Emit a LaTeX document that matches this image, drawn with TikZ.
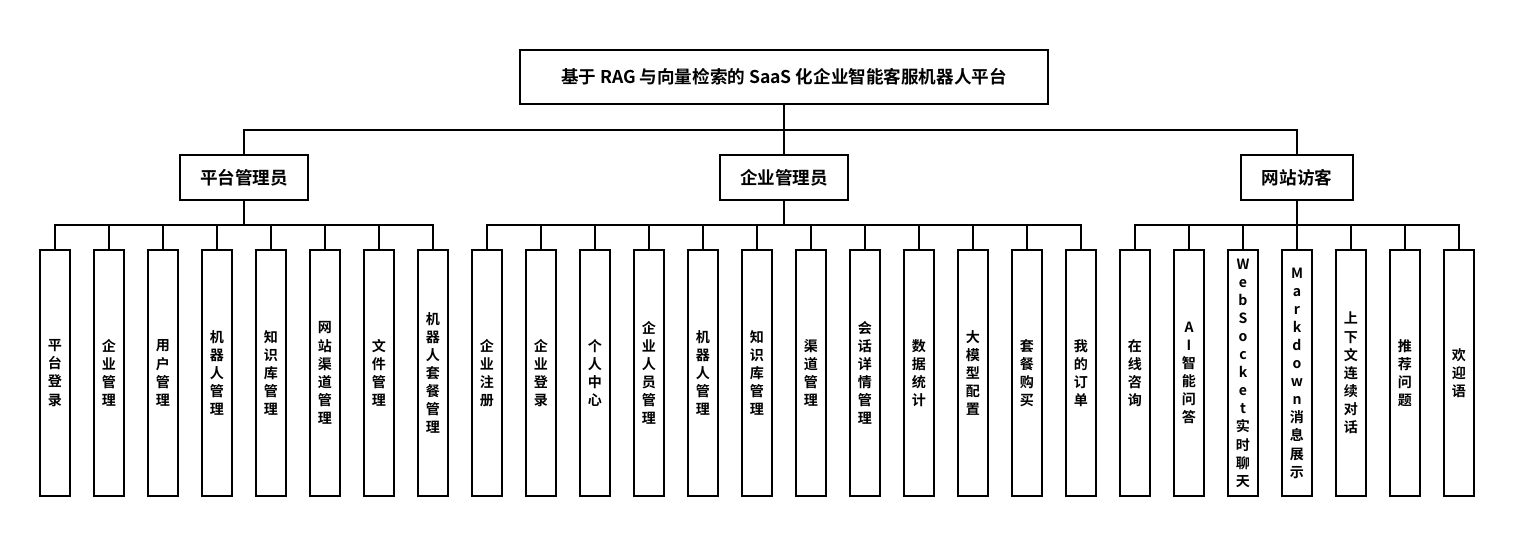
\documentclass[tikz,border=0pt]{standalone}
\usepackage{fontspec}
\newfontfamily\cjk{Noto Sans CJK SC}[BoldFont={* Bold}]
\begin{document}
\begin{tikzpicture}[
    x=0.02cm, y=-0.02cm,
    box/.style={rectangle, draw, line width=1.2pt, font=\cjk\bfseries\fontsize{10}{12}\selectfont, inner sep=0pt},
    leaf/.style={rectangle, draw, line width=1.2pt, minimum width=0.6cm, minimum height=4.92cm, align=center, inner sep=0pt, font=\cjk\bfseries\fontsize{8}{10.3}\selectfont},
    link/.style={line width=1.2pt}
]
    \useasboundingbox (0,0) rectangle (1514,546);
    % Root and groups
    \node [box, minimum width=10.56cm, minimum height=1.08cm] (root) at (784,77) {基于 RAG 与向量检索的 SaaS 化企业智能客服机器人平台};
    \node [box, minimum width=2.56cm, minimum height=0.9cm] (admin) at (244,177.5) {平台管理员};
    \node [box, minimum width=2.56cm, minimum height=0.9cm] (corp) at (784,177.5) {企业管理员};
    \node [box, minimum width=2.24cm, minimum height=0.9cm] (guest) at (1297,177.5) {网站访客};
    \draw [link] (root.south) -- (784,130) coordinate (bar);
    \draw [link] (admin.north) |- (bar) -| (guest.north);
    \draw [link] (bar) -- (corp.north);
    % Platform admin leaves
    \foreach \t [count=\i] in {{平\\台\\登\\录},{企\\业\\管\\理},{用\\户\\管\\理},{机\\器\\人\\管\\理},{知\\识\\库\\管\\理},{网\\站\\渠\\道\\管\\理},{文\\件\\管\\理},{机\\器\\人\\套\\餐\\管\\理}} {
        \node [leaf] (a\i) at ({1+54*\i},373) {\t};
        \draw [link] (a\i.north) -- ++(0,-25);
    }
    \draw [link] (55,225) -- (433,225);
    \draw [link] (admin.south) -- (244,225);
    % Enterprise admin leaves
    \foreach \t [count=\i] in {{企\\业\\注\\册},{企\\业\\登\\录},{个\\人\\中\\心},{企\\业\\人\\员\\管\\理},{机\\器\\人\\管\\理},{知\\识\\库\\管\\理},{渠\\道\\管\\理},{会\\话\\详\\情\\管\\理},{数\\据\\统\\计},{大\\模\\型\\配\\置},{套\\餐\\购\\买},{我\\的\\订\\单}} {
        \node [leaf] (b\i) at ({433+54*\i},373) {\t};
        \draw [link] (b\i.north) -- ++(0,-25);
    }
    \draw [link] (487,225) -- (1081,225);
    \draw [link] (corp.south) -- (784,225);
    % Visitor leaves
    \foreach \t [count=\i] in {{在\\线\\咨\\询},{A\\I\\智\\能\\问\\答},{W\\e\\b\\S\\o\\c\\k\\e\\t\\实\\时\\聊\\天},{M\\a\\r\\k\\d\\o\\w\\n\\消\\息\\展\\示},{上\\下\\文\\连\\续\\对\\话},{推\\荐\\问\\题},{欢\\迎\\语}} {
        \node [leaf] (c\i) at ({1081+54*\i},373) {\t};
        \draw [link] (c\i.north) -- ++(0,-25);
    }
    \draw [link] (1135,225) -- (1459,225);
    \draw [link] (guest.south) -- (1297,225);
\end{tikzpicture}
\end{document}
